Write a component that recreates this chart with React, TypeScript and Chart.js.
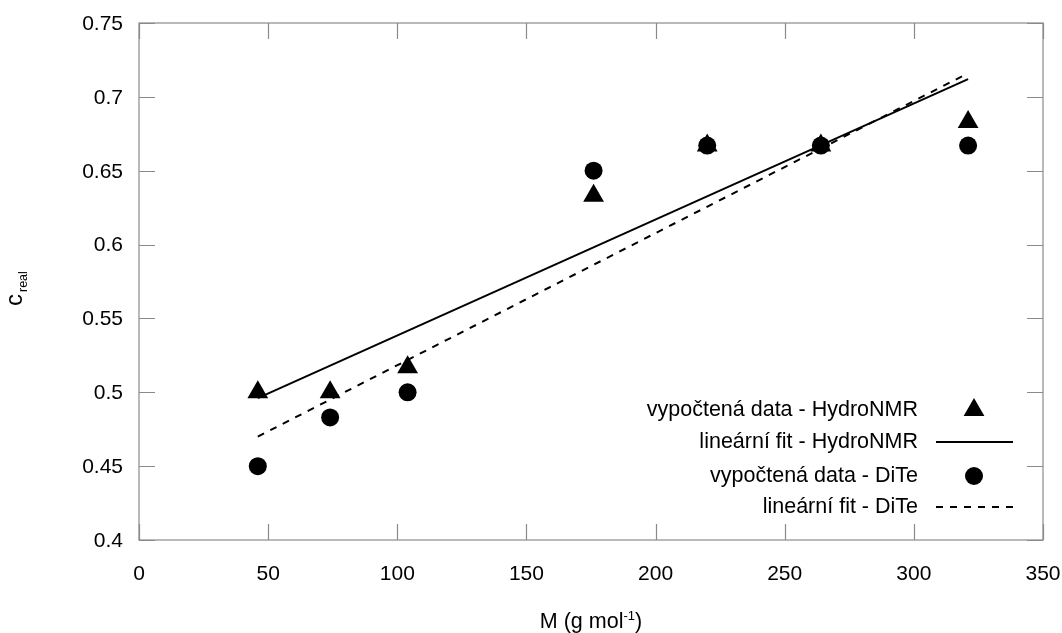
import React, { useEffect, useRef } from 'react';
import { Chart, registerables } from 'chart.js';

Chart.register(...registerables);

// ---- data ----
const massM = [46, 74, 104, 176, 220, 264, 321];
const hydroNMR = [0.5, 0.5, 0.517, 0.633, 0.667, 0.667, 0.683];
const diTe = [0.45, 0.483, 0.5, 0.65, 0.667, 0.667, 0.667];
const fitX = [46, 321];
const fitHydroNMR = [0.496, 0.712];
const fitDiTe = [0.47, 0.716];

const xTicks = [0, 50, 100, 150, 200, 250, 300, 350];
const xTickLabels = ['0', '50', '100', '150', '200', '250', '300', '350'];
const yTicks = [0.4, 0.45, 0.5, 0.55, 0.6, 0.65, 0.7, 0.75];
const yTickLabels = ['0.4', '0.45', '0.5', '0.55', '0.6', '0.65', '0.7', '0.75'];

const legendLabels = [
  'vypočtená data - HydroNMR',
  'lineární fit - HydroNMR',
  'vypočtená data - DiTe',
  'lineární fit - DiTe',
];

const FONT = '"Liberation Sans", Arial, sans-serif';
const AXIS_COLOR = '#8a8a8a';

const decorPlugin = {
  id: 'decor',
  afterDraw(chart: any) {
    const ctx = chart.ctx as CanvasRenderingContext2D;
    const { left, right, top, bottom } = chart.chartArea;
    const xs = chart.scales.x;
    const ys = chart.scales.y;
    const tickLen = 16;
    ctx.save();
    // frame
    ctx.strokeStyle = AXIS_COLOR;
    ctx.lineWidth = 1.2;
    ctx.strokeRect(left, top, right - left, bottom - top);
    // ticks
    ctx.beginPath();
    xTicks.forEach((v) => {
      const px = Math.round(xs.getPixelForValue(v)) + 0.5;
      ctx.moveTo(px, bottom);
      ctx.lineTo(px, bottom - tickLen);
      ctx.moveTo(px, top);
      ctx.lineTo(px, top + tickLen);
    });
    yTicks.forEach((v) => {
      const py = Math.round(ys.getPixelForValue(v)) + 0.5;
      ctx.moveTo(left, py);
      ctx.lineTo(left + tickLen, py);
      ctx.moveTo(right, py);
      ctx.lineTo(right - tickLen, py);
    });
    ctx.stroke();

    // tick labels
    ctx.fillStyle = '#000';
    ctx.font = `21px ${FONT}`;
    ctx.textAlign = 'center';
    ctx.textBaseline = 'middle';
    xTicks.forEach((v, i) => {
      ctx.fillText(xTickLabels[i], xs.getPixelForValue(v), bottom + 34);
    });
    ctx.textAlign = 'right';
    yTicks.forEach((v, i) => {
      ctx.fillText(yTickLabels[i], left - 16, ys.getPixelForValue(v) + 1);
    });

    // x title: M (g mol^-1)
    ctx.textBaseline = 'alphabetic';
    ctx.textAlign = 'left';
    const big = `21.5px ${FONT}`;
    const small = `13px ${FONT}`;
    ctx.font = big;
    const p1 = 'M (g mol';
    const w1 = ctx.measureText(p1).width;
    const w3 = ctx.measureText(')').width;
    ctx.font = small;
    const sup = '-1';
    const w2 = ctx.measureText(sup).width;
    const total = w1 + w2 + w3;
    const cx = 591;
    const x0 = cx - total / 2;
    const by = 628;
    ctx.font = big;
    ctx.fillText(p1, x0, by);
    ctx.font = small;
    ctx.fillText(sup, x0 + w1, by - 8);
    ctx.font = big;
    ctx.fillText(')', x0 + w1 + w2, by);

    // y title: c_real (rotated)
    ctx.save();
    ctx.translate(22, 306);
    ctx.rotate(-Math.PI / 2);
    ctx.font = `24px ${FONT}`;
    ctx.fillText('c', 0, 0);
    const cw = ctx.measureText('c').width;
    ctx.font = `12.5px ${FONT}`;
    ctx.fillText('real', cw + 2, 5);
    ctx.restore();

    // legend
    const rows = [410, 442, 476, 507];
    ctx.font = `21.5px ${FONT}`;
    ctx.textAlign = 'right';
    ctx.textBaseline = 'middle';
    legendLabels.forEach((t, i) => ctx.fillText(t, 918, rows[i]));
    const sx = 974;
    // triangle
    const r = 12;
    ctx.beginPath();
    ctx.moveTo(sx, rows[0] - r);
    ctx.lineTo(sx + r * Math.sin((2 * Math.PI) / 3), rows[0] + r / 2);
    ctx.lineTo(sx - r * Math.sin((2 * Math.PI) / 3), rows[0] + r / 2);
    ctx.closePath();
    ctx.fill();
    // solid line
    ctx.strokeStyle = '#000';
    ctx.lineWidth = 2;
    ctx.beginPath();
    ctx.moveTo(936, rows[1]);
    ctx.lineTo(1013, rows[1]);
    ctx.stroke();
    // circle
    ctx.beginPath();
    ctx.arc(sx, rows[2], 9, 0, Math.PI * 2);
    ctx.fill();
    // dashed line
    ctx.setLineDash([7, 7]);
    ctx.beginPath();
    ctx.moveTo(936, rows[3]);
    ctx.lineTo(1013, rows[3]);
    ctx.stroke();
    ctx.setLineDash([]);
    ctx.restore();
  },
};

export default function App() {
  const ref = useRef<HTMLCanvasElement | null>(null);
  useEffect(() => {
    const canvas = ref.current;
    if (!canvas) return;
    const chart = new Chart(canvas, {
      type: 'scatter',
      data: {
        datasets: [
          {
            label: legendLabels[0],
            data: massM.map((x, i) => ({ x, y: hydroNMR[i] })),
            pointStyle: 'triangle',
            pointRadius: 12,
            backgroundColor: '#000',
            borderColor: '#000',
            borderWidth: 0,
            showLine: false,
          },
          {
            label: legendLabels[2],
            data: massM.map((x, i) => ({ x, y: diTe[i] })),
            pointStyle: 'circle',
            pointRadius: 9,
            backgroundColor: '#000',
            borderColor: '#000',
            borderWidth: 0,
            showLine: false,
          },
          {
            label: legendLabels[1],
            data: fitX.map((x, i) => ({ x, y: fitHydroNMR[i] })),
            showLine: true,
            pointRadius: 0,
            borderColor: '#000',
            borderWidth: 2,
            fill: false,
          },
          {
            label: legendLabels[3],
            data: fitX.map((x, i) => ({ x, y: fitDiTe[i] })),
            showLine: true,
            pointRadius: 0,
            borderColor: '#000',
            borderWidth: 2,
            borderDash: [7, 7],
            fill: false,
          },
        ],
      },
      options: {
        animation: false,
        responsive: false,
        devicePixelRatio: 1,
        layout: { padding: { left: 139, right: 19, top: 23, bottom: 93 } },
        plugins: { legend: { display: false }, tooltip: { enabled: false } },
        scales: {
          x: { type: 'linear', min: 0, max: 350, display: false },
          y: { type: 'linear', min: 0.4, max: 0.75, display: false },
        },
      },
      plugins: [decorPlugin],
    });
    return () => chart.destroy();
  }, []);
  return (
    <div style={{ position: 'absolute', left: 0, top: 0, width: 1062, height: 633, background: '#fff' }}>
      <canvas ref={ref} width={1062} height={633} style={{ display: 'block' }} />
    </div>
  );
}
